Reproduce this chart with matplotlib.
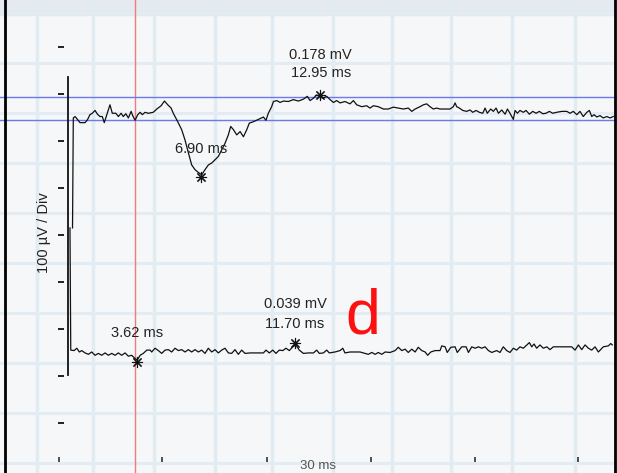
import numpy as np
import matplotlib.pyplot as plt

# Zeitachse in ms, Amplitude in µV (100 µV / Div)
top_ms = [0.33, 0.37, 0.46, 0.60, 0.71, 0.97, 1.09, 1.22, 1.34, 1.48, 1.60, 1.73, 1.85, 1.95,
          2.08, 2.24, 2.36, 2.54, 2.67, 2.81, 2.92, 3.05, 3.18, 3.32, 3.40, 3.52, 3.66, 3.78,
          3.89, 4.03, 4.20, 4.45, 4.63, 4.85, 5.02, 5.19, 5.36, 5.47, 5.65, 5.90, 6.07, 6.24,
          6.41, 6.58, 6.75, 6.92, 7.09, 7.26, 7.43, 7.60, 7.77, 7.94, 8.11, 8.28, 8.40, 8.54,
          8.71, 8.88, 9.05, 9.22, 9.35, 9.56, 9.81, 10.07, 10.20, 10.32, 10.49, 10.58, 10.75,
          10.92, 11.09, 11.34, 11.60, 11.85, 12.11, 12.31, 12.45, 12.62, 12.79, 12.92, 13.10,
          13.30, 13.47, 13.64, 13.81, 13.98, 14.23, 14.49, 14.66, 14.83, 15.09, 15.34, 15.51,
          15.68, 15.93, 16.19, 16.44, 16.70, 16.95, 17.21, 17.46, 17.64, 17.81, 18.06, 18.23,
          18.40, 18.57, 18.74, 18.91, 19.08, 19.34, 19.59, 19.76, 19.85, 19.93, 20.07, 20.24,
          20.44, 20.61, 20.75, 20.92, 21.09, 21.26, 21.38, 21.49, 21.67, 21.80, 21.94, 22.06,
          22.23, 22.40, 22.52, 22.65, 22.82, 22.91, 23.03, 23.16, 23.33, 23.47, 23.64, 23.81,
          23.98, 24.15, 24.32, 24.49, 24.66, 24.83, 25.03, 25.29, 25.55, 25.71, 25.88, 26.06,
          26.22, 26.39, 26.57, 26.70, 26.82, 26.94, 27.08, 27.24, 27.41, 27.59, 27.76, 27.92]
top_uv = [-230, 4, 7, 0, -6, -6, 0, 11, 14, 20, 12, 7, 7, -6,
          11, 32, 14, 14, 7, 14, 7, 13, 4, 18, 9, -1, 11, 16,
          11, 16, 14, 16, 23, 30, 40, 32, 25, 14, 0, -21, -43, -70,
          -96, -106, -112, -117, -106, -96, -92, -85, -78, -64, -50, -32, -14, -21,
          -32, -25, -36, -21, -7, -4, 1, 6, -1, 14, 28, 39, 41,
          37, 40, 39, 43, 40, 44, 50, 41, 46, 53, 50, 46,
          50, 43, 37, 41, 36, 39, 34, 41, 32, 28, 30, 25,
          30, 28, 23, 23, 27, 25, 23, 25, 18, 23, 28, 32,
          34, 28, 23, 25, 23, 23, 23, 28, 36, 28, 25, 20,
          18, 21, 16, 20, 16, 14, 25, 14, 23, 18, 25, 14,
          21, 12, 23, 14, 1, 20, 14, 20, 16, 20, 12, 18,
          14, 18, 13, 14, 18, 14, 16, 18, 18, 14, 18, 11,
          18, 7, 16, 20, 7, 11, 6, 9, 4, 7, 4, 7]

bottom_ms = [0.20, 0.24, 0.41, 0.55, 0.68, 0.80, 0.97, 1.14, 1.31, 1.48, 1.65, 1.82, 1.99, 2.16,
             2.33, 2.50, 2.67, 2.84, 3.01, 3.18, 3.35, 3.52, 3.64, 3.78, 3.94, 4.12, 4.29, 4.37,
             4.54, 4.71, 4.88, 5.05, 5.22, 5.39, 5.56, 5.73, 5.90, 6.07, 6.24, 6.41, 6.58, 6.75,
             6.92, 7.09, 7.26, 7.43, 7.60, 7.77, 7.94, 8.11, 8.28, 8.45, 8.62, 8.79, 8.96, 9.13,
             9.39, 9.73, 10.07, 10.20, 10.37, 10.55, 10.71, 10.88, 11.06, 11.22, 11.39, 11.57,
             11.73, 11.90, 12.11, 12.36, 12.62, 12.79, 12.92, 13.13, 13.30, 13.43, 13.72, 13.98,
             14.12, 14.23, 14.49, 14.74, 15.00, 15.17, 15.42, 15.60, 15.77, 15.93, 16.11, 16.28,
             16.53, 16.79, 16.95, 17.13, 17.30, 17.46, 17.64, 17.81, 17.97, 18.15, 18.32, 18.45,
             18.61, 18.83, 19.08, 19.17, 19.34, 19.45, 19.63, 19.85, 19.96, 20.19, 20.41, 20.53,
             20.70, 20.87, 21.04, 21.21, 21.38, 21.55, 21.72, 21.97, 22.14, 22.31, 22.48, 22.65,
             22.82, 22.99, 23.16, 23.33, 23.51, 23.64, 23.76, 23.88, 24.01, 24.18, 24.35, 24.53,
             24.69, 24.86, 25.12, 25.37, 25.63, 25.80, 25.97, 26.14, 26.31, 26.48, 26.65, 26.82,
             26.99, 27.16, 27.41, 27.67, 27.79, 27.87]
bottom_uv = [260, 0, -1, 4, -4, -1, -6, -9, -4, -11, -7, -11, -6, -11,
             -7, -11, -6, -11, -6, -13, -11, -18, -21, -11, -7, 0, 0, -4,
             4, -1, -7, 0, 1, -4, 4, -1, 1, -4, 1, -4, 1, -4,
             0, -7, 4, -4, 1, -6, 0, 4, -6, -7, 1, -9, 0, -7,
             -6, -6, -6, 0, -6, 0, -7, 0, -1, 4, -1, 7,
             11, 0, -7, -6, -6, 0, -7, -6, 0, -6, -4, -1,
             4, -6, -4, -4, -4, -6, -9, -5, -9, -5, -9, -4,
             -5, -1, 6, -1, 2, -5, 2, -4, 6, -1, -4, -11,
             -4, -1, -1, 9, 7, -5, 6, 7, -5, 7, 7, -5,
             7, 4, 7, 4, 7, -1, -5, -1, -5, 7, -1, -5,
             4, 0, 7, 4, 11, 16, 7, 13, 4, 11, 4, 7,
             1, 7, 7, 7, 7, 7, 0, 11, 1, 11, 4, 0,
             7, -4, 7, 9, 14, 11]

# Kanal-Offsets (Basislinien) in µV
top_offset = 245
bottom_offset = -245

# Marker (Latenz in ms, Amplitude in µV relativ zur Basislinie)
top_marker_ms = [6.90, 12.95]
top_marker_uv = [-121, 53]
bottom_marker_ms = [3.62, 11.70]
bottom_marker_uv = [-26, 15]

cursor_ms = 3.52
blue_lines_uv = [49, 0]  # relativ zum oberen Kanal
y_ticks_uv = [-400, -300, -200, -100, 0, 100, 200, 300, 400]
x_ticks_ms = [-0.35, 4.90, 10.25, 15.55, 20.85, 26.10]

# Karopapier im Hintergrund
paper_x_ms = [-1.48, 1.37, 4.49, 7.60, 10.51, 13.62, 16.63, 19.64, 22.76, 25.97]
paper_y_uv = [472, 366, 260, 153, 47, -60, -166, -272, -379, -485]

fig = plt.figure(figsize=(6.17, 4.73), dpi=100)
fig.patch.set_facecolor('#f5f7f8')
ax = fig.add_axes([0, 0, 1, 1])
ax.set_facecolor('#f5f7f8')
ax.set_xlim(-3.37, 28.11)
ax.set_ylim(-506.5, 500)
ax.axis('off')

ax.axhspan(468, 500, color='#e4eaef', zorder=0)
for x in paper_x_ms:
    ax.axvline(x, color='#e0ebf2', lw=2.4, zorder=1)
for y in paper_y_uv:
    ax.axhline(y, color='#e2ecf2', lw=2.2, zorder=1)

# Rahmen des Scans
ax.axvline(-3.11, color='black', lw=2, zorder=6)
ax.axvline(28.01, color='black', lw=2, zorder=6)

# Cursor
ax.axvline(cursor_ms, color='#f07a80', lw=1, zorder=3)
for b in blue_lines_uv:
    ax.axhline(top_offset + b, color='#6b78ee', lw=1, zorder=3)

# Y-Achse mit Teilstrichen
ax.plot([0.08, 0.08], [336, -298], color='#111111', lw=1.3, zorder=4)
ax.hlines(y_ticks_uv, -0.41, -0.12, color='#222222', lw=1.4, zorder=4)
ax.vlines(x_ticks_ms, -483, -472, color='#333333', lw=1.2, zorder=4)

# Kurven
ax.plot(top_ms, np.array(top_uv) + top_offset, color='#111111', lw=0.9, zorder=5)
ax.plot(bottom_ms, np.array(bottom_uv) + bottom_offset, color='#111111', lw=0.9, zorder=5)

ax.plot(top_marker_ms, np.array(top_marker_uv) + top_offset, ls='none',
        marker=(8, 2, 0), ms=8, mew=0.8, color='#111111', zorder=6)
ax.plot(bottom_marker_ms, np.array(bottom_marker_uv) + bottom_offset, ls='none',
        marker=(8, 2, 0), ms=8, mew=0.8, color='#111111', zorder=6)

font = dict(family='Liberation Sans', fontsize=10.5, color='#222222', zorder=7)
ax.text(13.0, 383, '0.178 mV', ha='center', va='center', **font)
ax.text(13.0, 345, '12.95 ms', ha='center', va='center', **font)
ax.text(6.89, 183, '6.90 ms', ha='center', va='center', **font)
ax.text(3.62, -209, '3.62 ms', ha='center', va='center', **font)
ax.text(11.68, -147, '0.039 mV', ha='center', va='center', **font)
ax.text(11.68, -189, '11.70 ms', ha='center', va='center', **font)
ax.text(-1.12, 4, '100 µV / Div', ha='center', va='center', rotation=90, **font)
ax.text(12.86, -504, '30 ms', ha='center', va='bottom', family='Liberation Sans',
        fontsize=9.5, color='#555555', zorder=7)
ax.text(15.15, -209, 'd', ha='center', va='baseline', family='Liberation Sans',
        fontsize=45, color='#ff1010', zorder=7)

plt.savefig('out.png', dpi=100, facecolor=fig.get_facecolor())
plt.close()
